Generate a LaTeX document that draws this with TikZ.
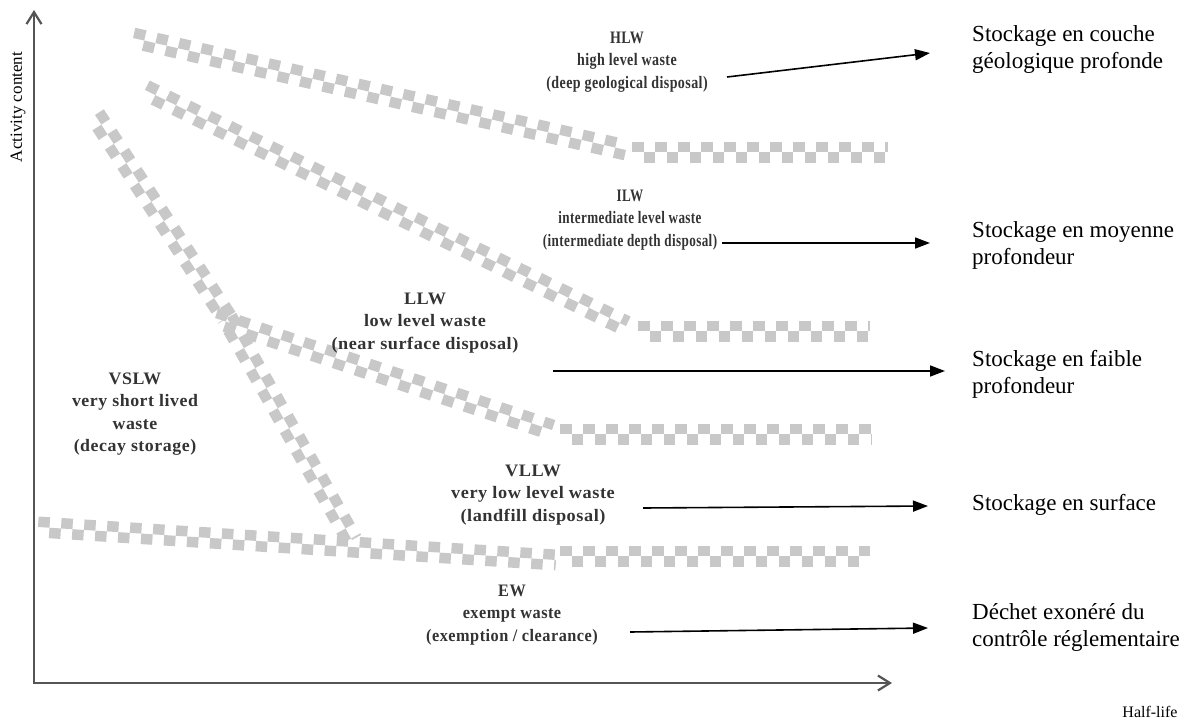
\documentclass[tikz,border=0pt]{standalone}
\usepackage{fontspec}
\setmainfont{Liberation Serif}
\newfontfamily\clsfont{Liberation Serif}[LetterSpace=3]
\usetikzlibrary{arrows.meta,positioning,calc}
\definecolor{BandGrey}{HTML}{C8C8C8}
\definecolor{AxisGrey}{HTML}{555555}
\definecolor{LabelGrey}{HTML}{333333}

\begin{document}
\begin{tikzpicture}[
  x=1pt,y=-1pt,
  band/.style={BandGrey,line width=10.5pt,dash pattern=on 11.5pt off 11.5pt},
  axis/.style={AxisGrey,line width=2.2pt,line join=miter},
  cls/.style={align=center,text=LabelGrey,transform shape,font=\clsfont\bfseries\fontsize{17.5}{22.5}\selectfont},
  dest/.style={anchor=west,align=left,inner sep=0pt,font=\fontsize{23}{27}\selectfont},
  conn/.style={line width=1.6pt,-{Triangle[length=15pt,width=11pt]}}
]
\useasboundingbox (0,0) rectangle (1191,723);

% axes
\coordinate (orig) at (34,683);
\coordinate (ytip) at (34,10);
\coordinate (xtip) at (892,683);
\draw[axis,{Straight Barb[length=12pt,width=15pt]}-{Straight Barb[length=12pt,width=15pt]}] (ytip) -- (orig) -- (xtip);
\node[rotate=90,font=\fontsize{17}{20}\selectfont] (ylab) at (18,107) {Activity content};
\node[font=\fontsize{16}{19}\selectfont] (xlab) at (1150,712) {Half-life};

% checker bands
\coordinate (h0) at (133,38);  \coordinate (h1) at (626,150);
\coordinate (h2) at (632,152); \coordinate (h3) at (888,152);
\coordinate (i0) at (145,90);  \coordinate (i1) at (626,326);
\coordinate (i2) at (638,331); \coordinate (i3) at (870,331);
\coordinate (l0) at (215,318); \coordinate (l1) at (552,430);
\coordinate (l2) at (560,434); \coordinate (l3) at (872,434);
\coordinate (v0) at (95,115);  \coordinate (v1) at (227,318);
\coordinate (v2) at (352,540);
\coordinate (e0) at (38,527);  \coordinate (e1) at (556,560);
\coordinate (e2) at (560,556); \coordinate (e3) at (870,556);
\foreach \a/\b in {h0/h1,h2/h3,i0/i1,i2/i3,l0/l1,l2/l3,v0/v1,v1/v2,e0/e1,e2/e3}{
  \draw[band] ($(\a)!5.25pt!90:(\b)$) -- ($(\b)!5.25pt!-90:(\a)$);
  \draw[band,dash phase=11.5pt] ($(\a)!5.25pt!-90:(\b)$) -- ($(\b)!5.25pt!90:(\a)$);
}

% waste classes
\node[cls,xscale=0.8] (hlw) at (627,62) {HLW\\high level waste\\(deep geological disposal)};
\node[cls,xscale=0.75] (ilw) at (630,220) {ILW\\intermediate level waste\\(intermediate depth disposal)};
\node[cls,xscale=1.04] (llw) at (425,323) {LLW\\low level waste\\(near surface disposal)};
\node[cls,xscale=1.02] (vslw) at (135,414) {VSLW\\very short lived\\waste\\(decay storage)};
\node[cls,xscale=1.045] (vllw) at (533,495) {VLLW\\very low level waste\\(landfill disposal)};
\node[cls,xscale=0.93] (ew) at (512,615) {EW\\exempt waste\\(exemption / clearance)};

% disposal routes
\node[dest] (deep) at (972,50) {Stockage en couche\\géologique profonde};
\node[dest] (mid) at (972,245) {Stockage en moyenne\\profondeur};
\node[dest] (low) at (972,374) {Stockage en faible\\profondeur};
\node[dest] (surf) at (972,505) {Stockage en surface};
\node[dest] (exo) at (972,627) {Déchet exonéré du\\contrôle réglementaire};

\coordinate (hlwA) at (727,77);  \coordinate (hlwB) at (930,53);
\coordinate (ilwA) at (722,243); \coordinate (ilwB) at (930,243);
\coordinate (llwA) at (553,371); \coordinate (llwB) at (945,371);
\coordinate (vllwA) at (643,508); \coordinate (vllwB) at (928,506);
\coordinate (ewA) at (630,632);  \coordinate (ewB) at (928,628);
\foreach \c in {hlw,ilw,llw,vllw,ew}
  \draw[conn] (\c A) -- (\c B);
\end{tikzpicture}
\end{document}
